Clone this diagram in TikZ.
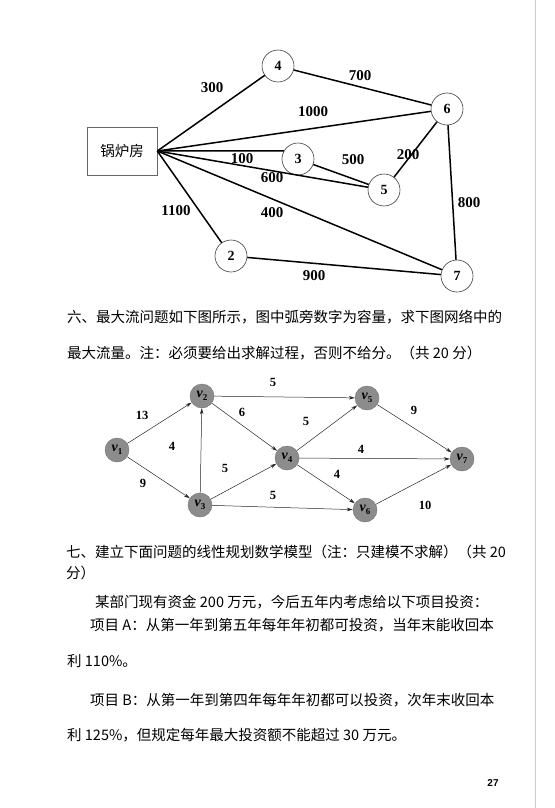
\documentclass[tikz,border=0pt]{standalone}
\usepackage{fontspec}
\setmainfont{Liberation Serif}
\newfontfamily\cjk{Noto Sans CJK SC}
\newfontfamily\sansf{Liberation Sans}
\usetikzlibrary{arrows.meta}
\newcommand{\vlbl}[1]{\textbf{\textit{v}}\raisebox{-3pt}{\fontsize{9}{9}\selectfont\bfseries #1}}
\begin{document}
\begin{tikzpicture}[x=1pt,y=-1pt,
  tnode/.style={circle, draw=black!75, line width=0.6pt, minimum size=32pt, inner sep=0pt, fill=white, font=\fontsize{14}{14}\selectfont\bfseries},
  tedge/.style={line width=1.5pt, black},
  tlab/.style={inner sep=0pt, font=\fontsize{15}{15}\selectfont\bfseries},
  vnode/.style={circle, fill=black!45, draw=black!55, line width=0.4pt, minimum size=24pt, inner sep=0pt, font=\fontsize{14}{14}\selectfont},
  vedge/.style={line width=0.5pt, black!85, -{Stealth[length=6pt,width=3.5pt]}},
  vlab/.style={inner sep=0pt, font=\fontsize{12.5}{12.5}\selectfont\bfseries},
  para/.style={anchor=west, inner sep=0pt, font=\cjk\fontsize{14.5}{17}\selectfont}]
\useasboundingbox (0,0) rectangle (554,808);
\fill[white] (0,0) rectangle (554,808);
\draw[black!20, line width=0.5pt] (535,0) -- (535,808);

% ---------- top graph ----------
\node[draw=black!60, line width=0.6pt, minimum width=70pt, minimum height=48pt, inner sep=0pt,
      font=\cjk\fontsize{14.5}{14.5}\selectfont] (box) at (122,151) {锅炉房};
\coordinate (hub) at (box.east);
\node[tnode] (n4) at (278,66) {4};
\node[tnode] (n3) at (298,159) {3};
\node[tnode] (n2) at (231,256) {2};
\node[tnode] (n6) at (447,109) {6};
\node[tnode] (n5) at (384,190) {5};
\node[tnode] (n7) at (457,276) {7};

\draw[tedge] (hub) -- (n4);
\draw[tedge] (hub) -- (n6);
\draw[tedge] (hub) -- (n3.150);
\draw[tedge] (hub) -- (n5);
\draw[tedge] (hub) -- (n7);
\draw[tedge] (hub) -- (n2);
\draw[tedge] (n4) -- (n6);
\draw[tedge] (n3) -- (n5);
\draw[tedge] (n5) -- (n6);
\draw[tedge] (n6) -- (n7);
\draw[tedge] (n2) -- (n7);

\node[tlab] (l300) at (212,88) {300};
\node[tlab] (l1000) at (313,112) {1000};
\node[tlab] (l100) at (242,159) {100};
\node[tlab] (l600) at (272,178) {600};
\node[tlab] (l1100) at (176,211) {1100};
\node[tlab] (l400) at (272,213) {400};
\node[tlab] (l700) at (360,76) {700};
\node[tlab] (l500) at (353,160) {500};
\node[tlab] (l200) at (408,155) {200};
\node[tlab] (l800) at (469,203) {800};
\node[tlab] (l900) at (314,276) {900};

% ---------- text ----------
\node[para] (t1) at (67,317) {六、最大流问题如下图所示，图中弧旁数字为容量，求下图网络中的};
\node[para] (t2) at (67,353) {最大流量。注：必须要给出求解过程，否则不给分。（共 20 分）};

% ---------- flow network ----------
\node[vnode] (v1) at (117,450) {\vlbl{1}};
\node[vnode] (v2) at (202,396) {\vlbl{2}};
\node[vnode] (v3) at (200,505) {\vlbl{3}};
\node[vnode] (v4) at (287,458) {\vlbl{4}};
\node[vnode] (v5) at (367,398) {\vlbl{5}};
\node[vnode] (v6) at (365,510) {\vlbl{6}};
\node[vnode] (v7) at (462,459) {\vlbl{7}};

\draw[vedge] (v1) -- (v2);
\draw[vedge] (v1) -- (v3);
\draw[vedge] (v3) -- (v2);
\draw[vedge] (v2) -- (v4);
\draw[vedge] (v2) -- (v5);
\draw[vedge] (v3) -- (v4);
\draw[vedge] (v3) -- (v6);
\draw[vedge] (v4) -- (v5);
\draw[vedge] (v4) -- (v7);
\draw[vedge] (v4) -- (v6);
\draw[vedge] (v5) -- (v7);
\draw[vedge] (v6) -- (v7);

\node[vlab] (c13) at (142,415) {13};
\node[vlab] (c4a) at (172,446) {4};
\node[vlab] (c9a) at (143,483) {9};
\node[vlab] (c5a) at (273,382) {5};
\node[vlab] (c6) at (242,412) {6};
\node[vlab] (c5b) at (306,421) {5};
\node[vlab] (c5c) at (225,468) {5};
\node[vlab] (c5d) at (273,495) {5};
\node[vlab] (c4b) at (361,449) {4};
\node[vlab] (c4c) at (337,474) {4};
\node[vlab] (c9b) at (414,410) {9};
\node[vlab] (c10) at (425,505) {10};

% ---------- text ----------
\node[para] (t3) at (66,552) {七、建立下面问题的线性规划数学模型（注：只建模不求解）（共 20};
\node[para] (t4) at (66,573) {分）};
\node[para] (t5) at (95,602) {某部门现有资金 200 万元，今后五年内考虑给以下项目投资：};
\node[para] (t6) at (90,625) {项目 A：从第一年到第五年每年年初都可投资，当年末能收回本};
\node[para] (t7) at (67,661) {利 110\%。};
\node[para] (t8) at (90,700) {项目 B：从第一年到第四年每年年初都可以投资，次年末收回本};
\node[para] (t9) at (67,735) {利 125\%，但规定每年最大投资额不能超过 30 万元。};

\node[inner sep=0pt, font=\sansf\fontsize{10}{10}\selectfont\bfseries] (pg) at (493,783) {27};
\end{tikzpicture}
\end{document}
